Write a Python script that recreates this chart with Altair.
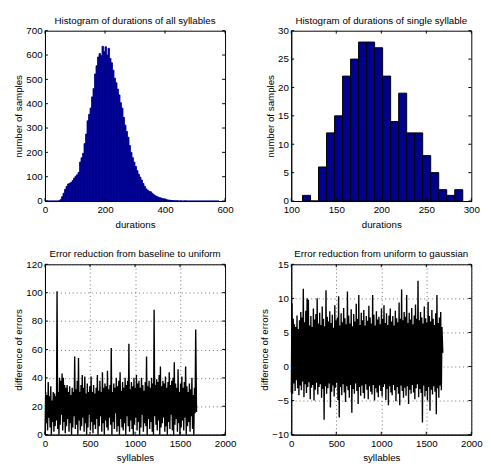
import altair as alt
import pandas as pd

FONT = "Liberation Sans"
NAVY = "#000090"
W, H = 185, 175

# ---------------- data ----------------
# Histogram of all syllables: bins of width 5 from 0 to 580
all_bin_width = 5
all_counts = [0, 0, 0, 0, 0, 0, 0, 0, 0,
              1, 6, 18, 32, 48, 60, 70, 73, 76, 84,
              94, 102, 108, 118, 160, 178, 196, 236, 275, 330,
              356, 382, 428, 462, 522, 556, 592, 606, 598, 636,
              614, 634, 600, 628, 586, 568, 538, 505, 486, 460,
              436, 404, 382, 344, 312, 286, 262, 228, 200, 178,
              160, 142, 125, 110, 98, 86, 72, 60, 50, 44,
              40, 38, 32, 26, 22, 19, 16, 14, 12, 10,
              8, 6, 5, 4, 3, 2, 2, 1, 1,
              1, 0, 1, 0, 0, 1, 0, 0, 0, 0, 0, 0, 0, 0,
              0, 0, 0, 0, 0, 0, 0, 0, 0, 0, 0, 0, 0, 0]

# Histogram of single syllable: 20 bins
single_start = 112.5
single_width = 8.9
single_counts = [1, 0, 6, 12, 15, 22, 25, 28, 28, 27, 22, 14, 19, 12, 12, 8, 5, 2, 1, 2]

# Error reduction baseline -> uniform (upper / lower envelope every 14 syllables)
step = 14
base_upper = [30, 28, 37, 27, 34, 24, 30, 29, 27, 101,
              30, 40, 38, 43, 40, 35, 33, 35, 30, 34,
              28, 33, 30, 55, 32, 38, 54, 30, 35, 42,
              33, 41, 29, 36, 30, 34, 41, 30, 35, 29,
              33, 42, 31, 38, 30, 44, 33, 36, 34, 45,
              32, 35, 61, 30, 36, 33, 40, 34, 38, 44,
              31, 37, 33, 40, 35, 38, 64, 32, 37, 34,
              40, 33, 42, 36, 38, 33, 40, 35, 31, 37,
              55, 34, 38, 33, 40, 36, 88, 35, 39, 37,
              42, 48, 34, 38, 36, 41, 33, 37, 44, 35,
              38, 40, 51, 36, 33, 46, 30, 36, 41, 33,
              37, 48, 34, 30, 36, 32, 40, 28, 33, 74]
base_lower = [0, 8, 3, 12, 5, 0, 9, 2, 6, 10,
              4, 0, 7, 14, 3, 9, 1, 6, 11, 2,
              8, 0, 5, 13, 4, 7, 0, 10, 3, 6,
              12, 2, 8, 0, 5, 14, 3, 9, 1, 7,
              4, 11, 0, 6, 13, 2, 8, 0, 10, 5,
              3, 12, 7, 0, 9, 4, 15, 2, 6, 0,
              11, 5, 3, 8, 0, 13, 6, 2, 10, 4,
              0, 7, 12, 3, 9, 0, 5, 14, 2, 8,
              6, 0, 11, 4, 9, 2, 0, 13, 7, 3,
              10, 0, 5, 8, 12, 2, 6, 0, 9, 4,
              14, 3, 0, 7, 11, 2, 8, 0, 5, 10,
              3, 12, 0, 6, 9, 2, 13, 4, 0, 15]
base_last = (1683, 16)

# Error reduction uniform -> gaussian
gauss_upper = [9.3, 7.0, 6.2, 5.8, 7.5, 5.5, 6.8, 8.0, 7.2, 11.4,
               6.5, 8.2, 10.0, 9.8, 6.0, 7.4, 5.8, 8.5, 6.9, 7.7,
               10.0, 6.3, 7.9, 6.1, 8.8, 7.0, 5.9, 11.2, 7.3, 6.6,
               8.1, 6.4, 7.6, 5.7, 9.0, 6.8, 7.2, 10.3, 6.0, 7.8,
               6.5, 8.6, 7.1, 6.2, 11.0, 7.5, 6.3, 8.4, 5.9, 7.7,
               6.6, 9.2, 7.0, 10.5, 6.1, 7.9, 6.8, 8.3, 6.0, 7.4,
               6.7, 8.9, 7.2, 6.3, 10.5, 7.6, 6.0, 8.1, 6.9, 7.3,
               6.2, 8.5, 7.0, 9.0, 6.4, 7.8, 6.1, 7.5, 8.5, 6.6,
               7.4, 6.0, 8.2, 7.1, 6.5, 9.4, 7.0, 11.3, 6.8, 8.0,
               7.3, 10.5, 6.4, 7.9, 6.9, 8.6, 6.2, 7.5, 9.1, 7.0,
               12.6, 6.8, 8.0, 7.2, 6.3, 8.8, 7.1, 6.5, 9.5, 7.4,
               6.6, 8.3, 7.0, 6.1, 7.8, 10.5, 6.4, 7.2, 8.0, 5.8]
gauss_lower = [-3.8, -4.0, -2.5, -3.6, -2.0, -3.2, -4.2, -2.8, -3.5, -2.2,
               -4.5, -2.6, -3.9, -3.0, -2.3, -4.8, -3.1, -2.7, -5.0, -3.4,
               -2.4, -4.1, -3.0, -2.6, -4.6, -3.3, -7.8, -2.9, -4.0, -3.2,
               -2.5, -6.0, -3.7, -2.8, -4.4, -3.1, -2.4, -4.9, -7.5, -3.0,
               -4.2, -2.6, -3.8, -5.2, -2.9, -3.5, -4.6, -2.7, -6.8, -3.3,
               -4.0, -2.5, -3.6, -5.5, -3.0, -4.3, -2.8, -3.9, -4.7, -2.6,
               -3.4, -4.8, -2.9, -3.7, -4.1, -2.7, -5.0, -3.2, -3.8, -4.5,
               -2.8, -3.6, -4.4, -3.0, -2.6, -4.9, -3.3, -5.7, -2.9, -3.8,
               -4.2, -2.7, -3.5, -5.1, -3.0, -4.0, -5.7, -2.8, -3.6, -4.6,
               -3.1, -4.3, -2.9, -5.5, -3.4, -4.0, -2.7, -3.8, -4.8, -3.2,
               -2.6, -4.5, -3.3, -3.9, -8.2, -2.8, -4.4, -3.6, -5.0, -3.0,
               -6.5, -3.4, -4.1, -2.9, -3.7, -7.0, -3.2, -4.6, -2.8, -3.5]
gauss_last = (1683, 2.0)

# axis ticks
tl_xticks = [0, 200, 400, 600]
tl_yticks = [0, 100, 200, 300, 400, 500, 600, 700]
tr_xticks = [100, 150, 200, 250, 300]
tr_yticks = [0, 5, 10, 15, 20, 25, 30]
b_xticks = [0, 500, 1000, 1500, 2000]
bl_yticks = [0, 20, 40, 60, 80, 100, 120]
br_yticks = [-10, -5, 0, 5, 10, 15]


# ---------------- helpers ----------------
def xenc(field, dom, ticks, title, grid):
    return alt.X(field, type="quantitative",
                 scale=alt.Scale(domain=dom, nice=False, zero=False, padding=0),
                 axis=alt.Axis(values=ticks, title=title, grid=grid, ticks=False,
                               labelFlush=False, format="d"))


def yenc(field, dom, ticks, title, grid):
    return alt.Y(field, type="quantitative",
                 scale=alt.Scale(domain=dom, nice=False, zero=False, padding=0),
                 axis=alt.Axis(values=ticks, title=title, grid=grid, ticks=False,
                               labelFlush=False, format="d"))


def tick_layers(xdom, xticks, xtitle, ydom, yticks, ytitle, grid):
    xt = pd.DataFrame({"v": xticks})
    yt = pd.DataFrame({"v": yticks})
    L = 3
    bottom = alt.Chart(xt).mark_rule(color="black", strokeWidth=1).encode(
        x=xenc("v", xdom, xticks, xtitle, grid), y=alt.value(H), y2=alt.value(H - L))
    top = alt.Chart(xt).mark_rule(color="black", strokeWidth=1).encode(
        x=xenc("v", xdom, xticks, xtitle, grid), y=alt.value(0), y2=alt.value(L))
    left = alt.Chart(yt).mark_rule(color="black", strokeWidth=1).encode(
        y=yenc("v", ydom, yticks, ytitle, grid), x=alt.value(0), x2=alt.value(L))
    right = alt.Chart(yt).mark_rule(color="black", strokeWidth=1).encode(
        y=yenc("v", ydom, yticks, ytitle, grid), x=alt.value(W), x2=alt.value(W - L))
    return [bottom, top, left, right]


def title(t):
    return alt.TitleParams(t, fontSize=10, font=FONT, fontWeight="normal",
                           color="black", offset=0, frame="group", anchor="middle")


# ---------------- panels ----------------
df_all = pd.DataFrame({
    "start": [i * all_bin_width for i in range(len(all_counts))],
    "count": all_counts,
})
df_all["end"] = df_all["start"] + all_bin_width
df_all["zero"] = 0

tl_bars = alt.Chart(df_all).mark_bar(color=NAVY, stroke=NAVY, strokeWidth=0.8).encode(
    x=xenc("start", [0, 600], tl_xticks, "durations", False),
    x2="end",
    y=yenc("count", [0, 700], tl_yticks, "number of samples", False),
    y2="zero",
)
tl = alt.layer(tl_bars, *tick_layers([0, 600], tl_xticks, "durations",
                                     [0, 700], tl_yticks, "number of samples", False)
               ).properties(width=W, height=H,
                            title=title("Histogram of durations of all syllables"))

df_single = pd.DataFrame({
    "start": [single_start + i * single_width for i in range(len(single_counts))],
    "count": single_counts,
})
df_single["end"] = df_single["start"] + single_width
df_single["zero"] = 0

tr_bars = alt.Chart(df_single).mark_bar(color=NAVY, stroke="black", strokeWidth=1).encode(
    x=xenc("start", [100, 300], tr_xticks, "durations", False),
    x2="end",
    y=yenc("count", [0, 30], tr_yticks, "number of samples", False),
    y2="zero",
)
tr = alt.layer(tr_bars, *tick_layers([100, 300], tr_xticks, "durations",
                                     [0, 30], tr_yticks, "number of samples", False)
               ).properties(width=W, height=H,
                            title=title("Histogram of durations of single syllable"))


def zigzag(upper, lower, last):
    xs, ys = [], []
    for i, (u, lo) in enumerate(zip(upper, lower)):
        xs.append(i * step + 1)
        ys.append(lo)
        xs.append(i * step + 8)
        ys.append(u)
    xs.append(last[0])
    ys.append(last[1])
    return pd.DataFrame({"syl": xs, "diff": ys})


df_base = zigzag(base_upper, base_lower, base_last)
bl_line = alt.Chart(df_base).mark_line(color="black", strokeWidth=1.4).encode(
    x=xenc("syl", [0, 2000], b_xticks, "syllables", True),
    y=yenc("diff", [0, 120], bl_yticks, "difference of errors", True),
)
bl = alt.layer(bl_line, *tick_layers([0, 2000], b_xticks, "syllables",
                                     [0, 120], bl_yticks, "difference of errors", True)
               ).properties(width=W, height=H,
                            title=title("Error reduction from baseline to uniform"))

df_gauss = zigzag(gauss_upper, gauss_lower, gauss_last)
br_line = alt.Chart(df_gauss).mark_line(color="black", strokeWidth=1.4).encode(
    x=xenc("syl", [0, 2000], b_xticks, "syllables", True),
    y=yenc("diff", [-10, 15], br_yticks, "difference of errors", True),
)
br = alt.layer(br_line, *tick_layers([0, 2000], b_xticks, "syllables",
                                     [-10, 15], br_yticks, "difference of errors", True)
               ).properties(width=W, height=H,
                            title=title("Error reduction from uniform to gaussian"))

chart = alt.concat(tl, tr, bl, br, columns=2,
                   spacing={"row": 65, "column": 68}, bounds="flush").properties(
    padding={"left": 5, "top": 1, "right": 0, "bottom": 0}
).configure_view(
    stroke="black", strokeWidth=1
).configure_axis(
    labelFont=FONT, labelFontSize=10, labelColor="black",
    titleFont=FONT, titleFontSize=10, titleFontWeight="normal", titleColor="black",
    domainColor="black", domainWidth=1,
    gridColor="#333333", gridDash=[1, 3], gridWidth=0.8, gridOpacity=0.9,
).configure_axisX(
    labelPadding=4, titlePadding=5
).configure_axisY(
    labelPadding=3, titlePadding=2
)

chart.save("out.html", embed_options={"renderer": "svg", "actions": False})
